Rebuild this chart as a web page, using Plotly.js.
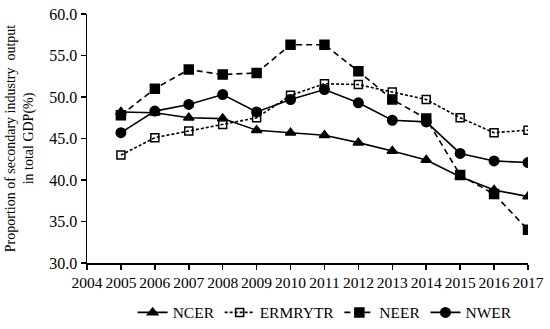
<!DOCTYPE html>
<html><head><meta charset="utf-8">
<script src="https://cdn.plot.ly/plotly-3.0.1.min.js"></script>
<style>html,body{margin:0;padding:0;background:#fff}#c{width:550px;height:329px}</style>
</head><body><div id="c"></div>
<script>
const years = [2005,2006,2007,2008,2009,2010,2011,2012,2013,2014,2015,2016,2017];
const ncer = [48.2,48.1,47.5,47.4,46.0,45.7,45.4,44.5,43.5,42.4,40.4,38.8,38.0];
const ermrytr = [43.0,45.1,45.9,46.7,47.5,50.2,51.6,51.5,50.6,49.7,47.5,45.7,46.0];
const neer = [47.8,51.0,53.3,52.7,52.9,56.3,56.3,53.1,49.7,47.4,40.6,38.3,34.0];
const nwer = [45.7,48.3,49.1,50.3,48.2,49.7,50.9,49.3,47.2,47.0,43.2,42.3,42.1];
const names = ['NCER','ERMRYTR','NEER','NWER'];
const xTicks = [2004,2005,2006,2007,2008,2009,2010,2011,2012,2013,2014,2015,2016,2017];

const mk = (y, name, dash, symbol, size) => ({
  x: years, y: y, name: name, type: 'scatter', mode: 'lines+markers',
  line: {color: '#000', width: 1.6, dash: dash},
  marker: {symbol: symbol, size: size, color: '#000', line: {color: '#000', width: 1.5}}
});
const data = [
  mk(ncer, names[0], 'solid', 'triangle-up', 9),
  mk(ermrytr, names[1], '3px,2px', 'square-open', 8),
  mk(neer, names[2], '6px,4px', 'square', 9),
  mk(nwer, names[3], 'solid', 'circle', 9.5)
];
const fam = '"Liberation Serif", "Times New Roman", serif';
const layout = {
  width: 550, height: 329,
  margin: {l: 87, r: 22, t: 14, b: 66, autoexpand: false},
  paper_bgcolor: '#fff', plot_bgcolor: '#fff',
  font: {family: fam, color: '#000', size: 16},
  showlegend: true,
  legend: {orientation: 'h', x: 0.54, xanchor: 'center', y: -0.2, yanchor: 'middle',
           font: {family: fam, size: 15.5, color: '#000'}, tracegroupgap: 0},
  xaxis: {range: [2004, 2017], tickvals: xTicks, ticktext: xTicks.map(String), tickangle: 0,
          showgrid: false, zeroline: false, showline: true, linecolor: '#000', linewidth: 1.5,
          ticks: 'outside', ticklen: 5, tickcolor: '#000', tickwidth: 1.5,
          tickfont: {family: fam, size: 15.5, color: '#000'}},
  yaxis: {range: [30, 60], dtick: 5, tick0: 30, tickformat: '.1f',
          showgrid: false, zeroline: false, showline: true, linecolor: '#000', linewidth: 1.5,
          ticks: 'outside', ticklen: 5, tickcolor: '#000', tickwidth: 1.5,
          tickfont: {family: fam, size: 16, color: '#000'},
          title: {text: 'Proportion of secondary industry  output<br>in total GDP(%)',
                  font: {family: fam, size: 14, color: '#000'}, standoff: 12}}
};
Plotly.newPlot('c', data, layout, {displayModeBar: false, staticPlot: true});
</script></body></html>
